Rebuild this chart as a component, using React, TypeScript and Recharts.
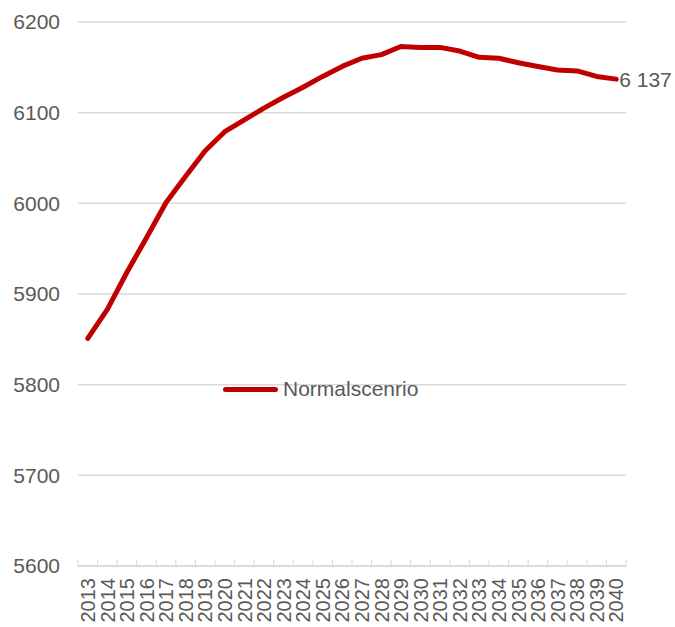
import { LineChart, Line, XAxis, YAxis, CartesianGrid, Legend, LabelList } from 'recharts';

const years = [
  '2013', '2014', '2015', '2016', '2017', '2018', '2019', '2020', '2021', '2022',
  '2023', '2024', '2025', '2026', '2027', '2028', '2029', '2030', '2031', '2032',
  '2033', '2034', '2035', '2036', '2037', '2038', '2039', '2040',
];

const normalscenario = [
  5851, 5883, 5924, 5962, 6001, 6030, 6058, 6079, 6092, 6105,
  6117, 6128, 6140, 6151, 6160, 6164, 6173, 6172, 6172, 6168,
  6161, 6160, 6155, 6151, 6147, 6146, 6140, 6137,
];

const yTicks = [5600, 5700, 5800, 5900, 6000, 6100, 6200];

const data = years.map((year, i) => ({ year, value: normalscenario[i] }));

const TEXT = '#595959';
const GRID = '#d9d9d9';
const RED = '#c00000';
const FONT = '"Liberation Sans", Arial, sans-serif';
const HALF_BAND = 548 / years.length / 2;

function YearTick({ x, y, payload, index }: { x?: number; y?: number; payload?: { value: string }; index?: number }) {
  if (x == null || y == null || !payload) return null;
  return (
    <g>
      <line x1={x - HALF_BAND} x2={x - HALF_BAND} y1={y - 6} y2={y} stroke={GRID} strokeWidth={1} />
      {index === years.length - 1 && (
        <line x1={x + HALF_BAND} x2={x + HALF_BAND} y1={y - 6} y2={y} stroke={GRID} strokeWidth={1} />
      )}
      <text
        transform={`translate(${x},${y + 12}) rotate(-90)`}
        textAnchor="end"
        dy="0.36em"
        fill={TEXT}
        fontSize={20}
        fontFamily={FONT}
      >
        {payload.value}
      </text>
    </g>
  );
}

function EndLabel(props: { x?: number; y?: number; index?: number; value?: number }) {
  const { x, y, index, value } = props;
  if (index !== years.length - 1 || x == null || y == null || value == null) return null;
  const txt = String(value).replace(/\B(?=(\d{3})+(?!\d))/g, ' ');
  return (
    <text x={x + 3} y={y} dy="0.36em" fill={TEXT} fontSize={21} fontFamily={FONT}>
      {txt}
    </text>
  );
}

function LegendBox() {
  return (
    <div style={{ display: 'flex', alignItems: 'center', fontFamily: FONT, fontSize: 21, color: TEXT }}>
      <span style={{ display: 'inline-block', width: 55, height: 5, borderRadius: 3, background: RED, marginRight: 5 }} />
      <span>Normalscenrio</span>
    </div>
  );
}

export default function App() {
  return (
    <div style={{ position: 'absolute', left: 0, top: 0, background: '#fff' }}>
      <LineChart width={675} height={627} data={data} margin={{ top: 22, right: 49, bottom: 6, left: 0 }}>
        <CartesianGrid vertical={false} stroke={GRID} strokeWidth={1.5} />
        <XAxis
          dataKey="year"
          interval={0}
          height={55}
          padding={{ left: HALF_BAND, right: HALF_BAND }}
          tickSize={0}
          tickMargin={0}
          tickLine={false}
          axisLine={{ stroke: GRID, strokeWidth: 1.5 }}
          tick={<YearTick />}
        />
        <YAxis
          domain={[5600, 6200]}
          ticks={yTicks}
          width={78}
          axisLine={false}
          tickLine={false}
          tickMargin={12}
          tick={{ fill: TEXT, fontSize: 21, fontFamily: FONT }}
        />
        <Legend
          layout="horizontal"
          verticalAlign="middle"
          align="center"
          content={<LegendBox />}
          wrapperStyle={{ position: 'absolute', left: 223, top: 377, width: 'auto' }}
        />
        <Line
          type="linear"
          dataKey="value"
          name="Normalscenrio"
          stroke={RED}
          strokeWidth={5}
          strokeLinecap="round"
          strokeLinejoin="round"
          dot={false}
          isAnimationActive={false}
        >
          <LabelList dataKey="value" content={<EndLabel />} />
        </Line>
      </LineChart>
    </div>
  );
}
